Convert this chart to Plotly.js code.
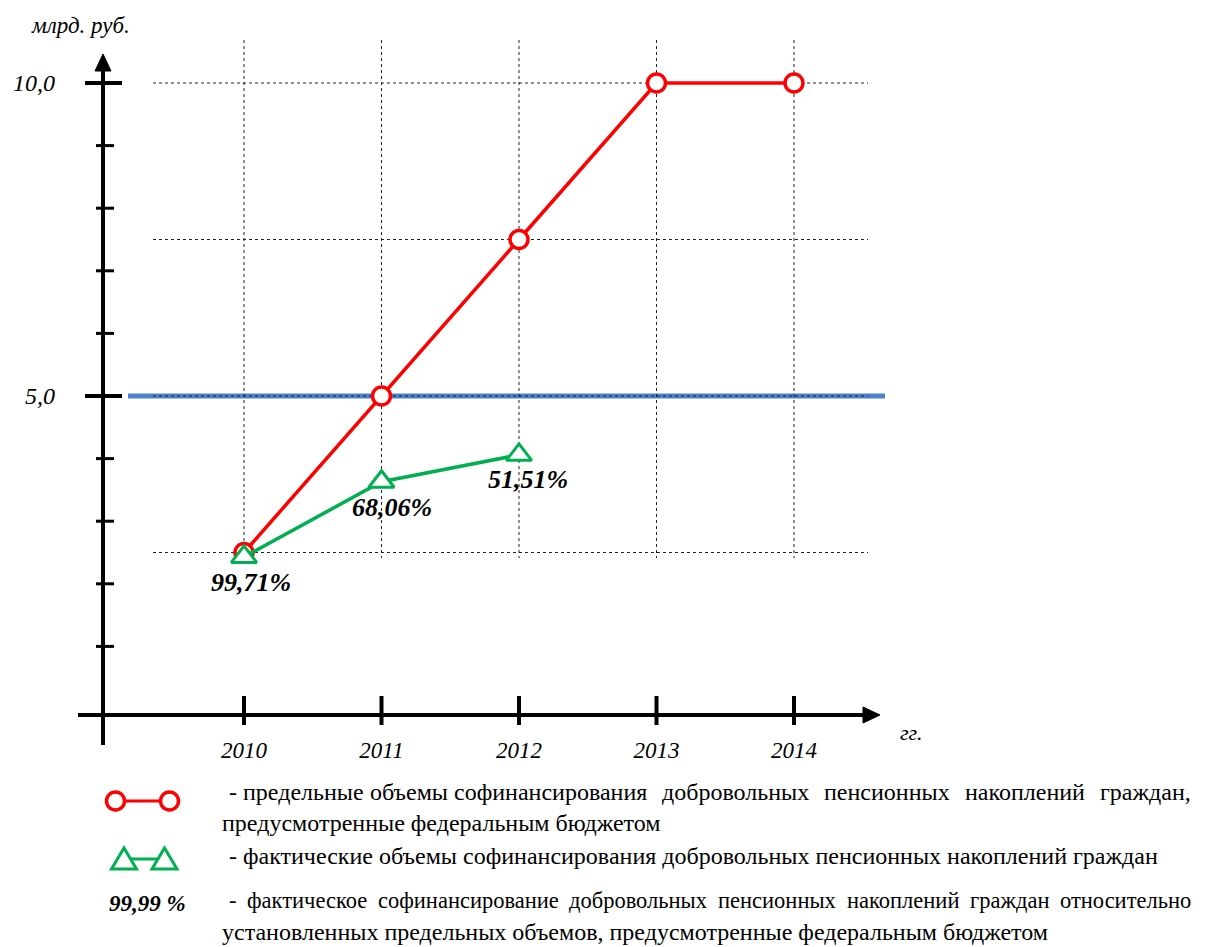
<!DOCTYPE html>
<html>
<head>
<meta charset="utf-8">
<script src="https://cdn.plot.ly/plotly-3.0.1.min.js"></script>
<style>
  html, body { margin: 0; padding: 0; background: #fff; }
  #chart { width: 1210px; height: 947px; }
</style>
</head>
<body>
<div id="chart"></div>
<script>
// ---------- data ----------
const years = [2010, 2011, 2012, 2013, 2014];
const yearLabels = ['2010', '2011', '2012', '2013', '2014'];
const limitVolume = [2.5, 5.0, 7.5, 10.0, 10.0];          // предельные объемы, млрд. руб.
const actualYears = [2010, 2011, 2012];
const actualVolume = [2.43, 3.63, 4.06];                   // фактические объемы, млрд. руб.
const actualPctLabels = ['99,71%', '68,06%', '51,51%'];
const yMajorTicks = [5, 10];
const yMajorLabels = ['5,0', '10,0'];
const yMinorTicks = [1, 2, 3, 4, 6, 7, 8, 9];
const gridValues = [2.5, 5, 7.5, 10];
const refLineValue = 5;
const legendTexts = [
  '- предельные объемы софинансирования добровольных пенсионных накоплений граждан,',
  'предусмотренные федеральным бюджетом',
  '- фактические объемы софинансирования добровольных пенсионных накоплений граждан',
  '- фактическое софинансирование добровольных пенсионных накоплений граждан относительно',
  'установленных предельных объемов, предусмотренные федеральным бюджетом'
];
const pctLegendSample = '99,99 %';
const yUnit = 'млрд. руб.';
const xUnit = 'гг.';

// ---------- geometry helpers ----------
const W = 1210, H = 947;
const px = x => x / W;
const py = y => 1 - y / H;
const SERIF = 'Liberation Serif';
const RED = '#ff0000', GREEN = '#00b050', BLUE = '#4d82cf';

// scale: 10 at y=83, 5 at y=396 -> 62.6 px/unit, 0 at 709
const PXU = 62.6, Y0 = 709;
const yRange = [(Y0 - H) / PXU, Y0 / PXU];
const XPY = 137.5, X2010 = 244;
const xRange = [2010 - X2010 / XPY, 2010 + (W - X2010) / XPY];

const traces = [
  {
    x: years, y: limitVolume, type: 'scatter', mode: 'lines+markers',
    line: {color: RED, width: 3.5},
    marker: {symbol: 'circle', size: 18, color: '#fff', line: {color: RED, width: 3.5}},
    hoverinfo: 'x+y'
  },
  {
    x: actualYears, y: actualVolume, type: 'scatter', mode: 'lines+markers',
    line: {color: GREEN, width: 3.5},
    marker: {symbol: 'triangle-up', size: 22, color: '#fff', line: {color: GREEN, width: 3}},
    hoverinfo: 'x+y'
  }
];

const shapes = [];
// blue reference line
shapes.push({type: 'line', layer: 'below', xref: 'paper', yref: 'y',
  x0: px(128), x1: px(885), y0: refLineValue, y1: refLineValue,
  line: {color: BLUE, width: 5}});
// dotted gridlines
gridValues.forEach(v => shapes.push({type: 'line', layer: 'below', xref: 'paper', yref: 'y',
  x0: px(153), x1: px(868), y0: v, y1: v, line: {color: '#222', width: 1, dash: 'dot'}}));
years.forEach(v => shapes.push({type: 'line', layer: 'below', xref: 'x', yref: 'paper',
  x0: v, x1: v, y0: py(40), y1: py(558), line: {color: '#222', width: 1, dash: 'dot'}}));
// axis lines
shapes.push({type: 'line', xref: 'paper', yref: 'paper', x0: px(103), x1: px(103), y0: py(745), y1: py(66),
  line: {color: '#000', width: 4}});
shapes.push({type: 'line', xref: 'paper', yref: 'paper', x0: px(78), x1: px(868), y0: py(715), y1: py(715),
  line: {color: '#000', width: 4}});
// arrow heads
shapes.push({type: 'path', xref: 'paper', yref: 'paper',
  path: `M ${px(95)} ${py(71)} L ${px(103)} ${py(54)} L ${px(111)} ${py(71)} Z`,
  fillcolor: '#000', line: {color: '#000', width: 1}});
shapes.push({type: 'path', xref: 'paper', yref: 'paper',
  path: `M ${px(863)} ${py(707)} L ${px(880)} ${py(715)} L ${px(863)} ${py(723)} Z`,
  fillcolor: '#000', line: {color: '#000', width: 1}});
// y ticks
yMajorTicks.forEach(v => shapes.push({type: 'line', xref: 'paper', yref: 'y',
  x0: px(85), x1: px(122), y0: v, y1: v, line: {color: '#000', width: 4}}));
yMinorTicks.forEach(v => shapes.push({type: 'line', xref: 'paper', yref: 'y',
  x0: px(96), x1: px(114), y0: v, y1: v, line: {color: '#000', width: 3}}));
// x ticks
years.forEach(v => shapes.push({type: 'line', xref: 'x', yref: 'paper',
  x0: v, x1: v, y0: py(696), y1: py(725), line: {color: '#000', width: 4}}));

// legend icons
shapes.push({type: 'line', xref: 'paper', yref: 'paper', x0: px(115), x1: px(170), y0: py(801), y1: py(801),
  line: {color: RED, width: 3}});
[115.5, 169.5].forEach(cx => shapes.push({type: 'circle', xref: 'paper', yref: 'paper',
  x0: px(cx - 9), x1: px(cx + 9), y0: py(801 - 9), y1: py(801 + 9),
  fillcolor: '#fff', line: {color: RED, width: 3.5}}));
shapes.push({type: 'line', xref: 'paper', yref: 'paper', x0: px(131), x1: px(158), y0: py(859), y1: py(859),
  line: {color: GREEN, width: 3}});
[124, 164.5].forEach(cx => shapes.push({type: 'path', xref: 'paper', yref: 'paper',
  path: `M ${px(cx - 12.5)} ${py(869)} L ${px(cx)} ${py(848)} L ${px(cx + 12.5)} ${py(869)} Z`,
  fillcolor: 'rgba(0,0,0,0)', line: {color: GREEN, width: 3}}));

// ---------- annotations ----------
const annotations = [];
const labelShifts = [[7, -26], [10, -26], [9, -25]];
actualYears.forEach((yr, i) => annotations.push({
  x: yr, y: actualVolume[i], xref: 'x', yref: 'y', text: actualPctLabels[i], showarrow: false,
  xanchor: 'center', yanchor: 'middle',
  xshift: labelShifts[i][0], yshift: labelShifts[i][1],
  font: {family: SERIF, size: 26, weight: 'bold', style: 'italic', color: '#000'}
}));
annotations.push({x: px(80), y: py(25), xref: 'paper', yref: 'paper', text: yUnit, showarrow: false,
  xanchor: 'center', yanchor: 'middle',
  font: {family: SERIF, size: 23, style: 'italic', color: '#000'}});
annotations.push({x: px(911), y: py(732), xref: 'paper', yref: 'paper', text: xUnit, showarrow: false,
  xanchor: 'center', yanchor: 'middle',
  font: {family: SERIF, size: 22, style: 'italic', color: '#000'}});
annotations.push({x: px(147), y: py(903), xref: 'paper', yref: 'paper', text: pctLegendSample, showarrow: false,
  xanchor: 'center', yanchor: 'middle',
  font: {family: SERIF, size: 23, weight: 'bold', style: 'italic', color: '#000'}});

// legend text lines (justified ones are laid out word by word)
const LEG_SIZE = 24;
const canvas = document.createElement('canvas');
const ctx = canvas.getContext('2d');
const legendLayout = [
  {x0: 228, x1: 1190, y: 792, justify: true, fixedGaps: 3},
  {x0: 221, y: 823},
  {x0: 228, y: 856},
  {x0: 228, x1: 1190, y: 900, justify: true, fixedGaps: 0},
  {x0: 221, y: 932}
];
legendTexts.forEach((t, i) => {
  const L = legendLayout[i];
  let size = LEG_SIZE;
  if (L.justify) {
    const words = t.split(' ');
    const nGaps = words.length - 1;
    const avail = L.x1 - L.x0;
    const measure = s => {
      ctx.font = `${s}px "Liberation Serif"`;
      const widths = words.map(w => ctx.measureText(w).width);
      return {widths, total: widths.reduce((a, b) => a + b, 0), spaceW: ctx.measureText(' ').width};
    };
    let m = measure(size);
    const natural = m.total + nGaps * m.spaceW * 1.6;
    if (natural > avail) { size = Math.floor(size * avail / natural * 2) / 2; m = measure(size); }
    const gap = (avail - m.total - L.fixedGaps * m.spaceW) / (nGaps - L.fixedGaps);
    const legFont = {family: SERIF, size: size, color: '#000'};
    let cur = L.x0;
    words.forEach((w, k) => {
      annotations.push({x: px(cur), y: py(L.y), xref: 'paper', yref: 'paper', text: w, showarrow: false,
        xanchor: 'left', yanchor: 'middle', borderpad: 0, font: legFont});
      cur += m.widths[k] + (k < L.fixedGaps ? m.spaceW : gap);
    });
  } else {
    annotations.push({x: px(L.x0), y: py(L.y), xref: 'paper', yref: 'paper', text: t, showarrow: false,
      xanchor: 'left', yanchor: 'middle', borderpad: 0, font: {family: SERIF, size: size, color: '#000'}});
  }
});

const layout = {
  width: W, height: H,
  margin: {l: 0, r: 0, t: 0, b: 0, pad: 0},
  paper_bgcolor: '#fff', plot_bgcolor: '#fff',
  font: {family: SERIF, color: '#000'},
  showlegend: false,
  xaxis: {
    range: xRange, domain: [0, 1], anchor: 'free', position: py(715),
    tickmode: 'array', tickvals: years, ticktext: yearLabels, ticks: '',
    showgrid: false, zeroline: false, showline: false, fixedrange: true,
    ticklabelstandoff: 19,
    tickfont: {family: SERIF, size: 23, style: 'italic', color: '#000'}
  },
  yaxis: {
    range: yRange, domain: [0, 1], anchor: 'free', position: px(103),
    tickmode: 'array', tickvals: yMajorTicks, ticktext: yMajorLabels, ticks: '',
    showgrid: false, zeroline: false, showline: false, fixedrange: true,
    ticklabelstandoff: 48,
    tickfont: {family: SERIF, size: 24, style: 'italic', color: '#000'}
  },
  shapes: shapes,
  annotations: annotations
};

Plotly.newPlot('chart', traces, layout, {displayModeBar: false, staticPlot: true});
</script>
</body>
</html>
